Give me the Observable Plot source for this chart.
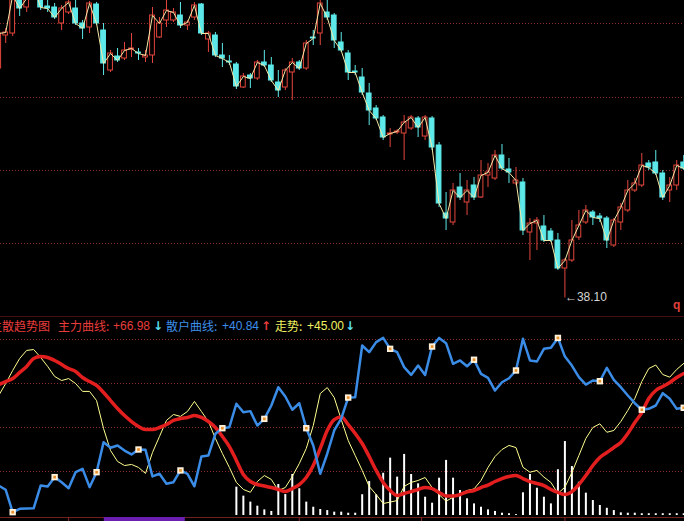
<!DOCTYPE html>
<html><head><meta charset="utf-8">
<script src="https://cdn.jsdelivr.net/npm/d3@7"></script>
<script src="https://cdn.jsdelivr.net/npm/@observablehq/plot@0.6"></script>
<style>
html,body{margin:0;padding:0;background:#000;}
#wrap{position:relative;width:684px;height:521px;overflow:hidden;background:#000;}
#top,#bot{position:absolute;left:0;}
#top{top:0;} #bot{top:317px;}
#top svg,#bot svg{display:block;overflow:hidden;}
#title{position:absolute;top:319px;left:0;width:684px;height:16px;font-size:12px;white-space:nowrap;}
#title span{position:absolute;top:0;line-height:14px;}
#title .cjk{font-family:"Noto Sans CJK SC",sans-serif;}
#title .num{font-family:"Liberation Sans",Arial,sans-serif;}
#title .arw{font-family:"DejaVu Sans",sans-serif;font-weight:bold;font-size:12px;}
#corner{position:absolute;left:673px;top:298px;font:bold 12px "Liberation Sans",Arial,sans-serif;line-height:14px;color:#E0403C;}
</style></head><body>
<div id="wrap"><div id="top"></div><div id="bot"></div><div id="title"></div><div id="corner"></div></div>
<script>
// bar index (first bar partly off the left edge)
const idx = d3.range(-1, 98);

// ---- price panel (OHLC) ----
const openP = [
 47.28,48.60,48.68,50.40,49.72,50.20,50.20,49.76,49.72,49.08,
 49.52,49.68,49.08,48.92,49.84,48.80,47.20,47.76,47.68,48.04,
 47.92,47.72,47.80,48.52,49.20,49.20,49.40,49.00,49.32,49.84,
 48.44,48.60,47.80,47.56,47.44,46.52,47.00,46.88,47.52,47.40,
 46.72,46.52,47.12,47.52,47.28,48.52,48.68,49.52,49.40,48.32,
 47.88,47.16,46.92,46.28,45.68,45.32,44.64,44.72,44.68,44.88,
 45.28,44.56,45.28,44.20,41.48,41.12,42.52,41.92,42.60,42.12,
 43.00,42.88,43.80,43.24,42.68,42.72,40.72,41.08,40.96,40.76,
 40.40,39.28,39.60,40.52,41.12,41.52,41.36,41.28,40.20,41.12,
 41.60,42.40,42.60,43.48,43.52,43.08,42.40,42.60,43.52];
const closeP = [
 48.68,48.72,50.20,49.68,50.08,50.60,49.72,49.68,49.32,49.68,
 49.92,49.08,48.88,49.88,49.08,47.48,47.88,47.60,48.00,48.08,
 47.88,47.80,49.40,49.08,49.60,49.52,49.00,49.12,49.80,48.68,
 48.68,47.80,47.68,47.52,46.56,46.96,46.88,47.52,47.40,46.80,
 46.40,47.20,47.52,47.28,48.28,48.48,49.88,49.32,48.40,48.00,
 47.12,47.12,46.32,45.60,45.28,44.52,44.68,44.76,45.12,45.32,
 44.92,45.32,44.12,41.88,41.28,42.40,42.12,42.40,42.12,43.00,
 43.12,43.80,43.28,43.12,42.80,40.80,41.08,41.20,40.40,40.40,
 39.28,39.60,40.40,41.00,41.60,41.32,41.28,40.40,41.20,41.72,
 42.40,42.68,43.40,43.32,43.08,42.12,42.60,43.40,43.28];
const highP = [
 49.20,48.88,50.48,50.60,50.32,50.88,50.40,50.00,49.88,49.80,
 50.08,50.00,49.20,49.96,49.92,49.08,48.00,48.08,48.32,48.68,
 48.08,48.00,49.72,49.32,50.00,49.68,49.92,49.20,49.92,49.88,
 48.76,48.72,48.28,47.80,47.52,47.08,47.08,47.60,48.00,47.72,
 47.20,47.28,47.68,47.60,48.40,48.80,50.00,50.00,49.48,48.72,
 48.00,47.40,47.28,46.68,45.80,45.40,44.88,44.84,45.40,45.40,
 45.36,45.40,45.36,44.32,42.32,42.68,43.08,42.80,42.92,43.60,
 43.48,44.00,44.24,43.68,43.32,42.88,41.28,41.32,41.40,40.88,
 40.68,39.68,41.20,41.60,41.80,41.60,41.48,41.36,41.28,41.88,
 42.80,42.88,43.88,43.60,44.00,43.20,42.92,43.60,43.80];
const lowP = [
 47.12,48.28,48.56,49.36,49.52,50.08,49.60,49.52,49.24,48.80,
 49.44,49.00,48.44,48.68,49.00,47.00,47.12,47.52,47.60,47.72,
 47.60,47.52,47.48,48.48,48.92,49.12,48.88,48.80,49.20,48.60,
 47.92,47.72,47.32,47.40,46.44,46.48,46.48,46.80,47.32,46.72,
 46.12,46.40,46.00,47.20,47.20,48.20,48.20,49.20,48.08,47.92,
 46.80,47.00,46.20,45.00,45.20,44.40,44.12,44.64,43.60,44.80,
 44.52,44.40,44.00,41.72,40.80,41.00,42.00,41.40,42.00,42.08,
 42.52,42.80,43.20,42.68,42.60,40.60,39.60,40.00,40.32,40.32,
 39.20,38.10,39.52,40.40,41.04,41.00,41.12,40.08,40.12,40.80,
 41.52,42.32,42.52,43.20,43.00,42.00,41.92,42.40,43.20];
const priceGrid = [49.08, 46.12, 43.20, 40.28];
const panelEdge = 37.34;

// ---- 主散趋势图 indicator ----
const mainCurve = [
 74.4,76.1,77.8,81.3,84.7,89.2,90.3,89.8,88.1,85.8,
 83.5,81.8,78.4,76.1,73.9,69.9,65.3,60.8,56.8,53.4,
 50.6,48.9,48.9,50.0,51.7,54.0,55.1,55.7,56.8,55.7,
 53.4,50.0,44.9,39.2,31.3,23.3,19.3,17.6,16.8,15.9,
 14.8,13.6,15.3,17.6,21.6,28.4,38.1,48.3,54.5,56.0,
 51.7,46.6,40.9,33.5,25.6,18.8,14.2,11.4,12.5,13.6,
 14.8,15.9,15.3,13.1,11.1,11.1,11.9,13.4,14.2,15.9,
 17.3,19.3,21.0,22.2,22.7,21.0,19.3,18.2,17.0,14.8,
 13.1,11.9,13.6,17.6,22.7,28.4,33.0,35.8,38.6,41.5,
 46.6,52.8,58.5,66.5,71.0,73.3,75.6,78.4,80.7];
const retailCurve = [
 17.0,14.6,1.9,3.8,4.0,4.1,17.0,16.5,21.8,18.9,
 15.5,24.6,26.5,16.1,24.6,41.6,38.5,39.8,36.9,34.7,
 37.5,37.3,22.2,23.7,18.0,18.9,25.6,23.7,16.6,33.5,
 34.1,46.4,49.6,50.2,63.5,58.7,59.3,51.1,54.9,62.5,
 72.9,67.6,60.1,63.8,49.6,39.8,23.7,35.1,48.3,55.1,
 67.0,67.2,96.6,92.8,98.5,100.9,94.7,92.8,84.3,79.9,
 85.2,79.9,96.0,100.9,97.9,86.2,88.1,84.8,88.5,80.5,
 78.2,71.0,75.7,78.0,82.4,100.4,88.1,87.5,94.7,95.3,
 100.9,90.3,85.2,78.6,74.4,76.7,76.3,83.9,77.1,72.9,
 68.2,63.8,60.1,60.6,62.5,69.5,66.3,60.6,61.2];
const trendCurve = [
 68.2,75.0,82.4,89.2,93.8,94.3,89.8,84.7,79.0,76.7,
 77.8,75.0,70.5,70.5,65.3,49.4,36.9,30.7,28.4,29.0,
 27.3,23.9,35.8,44.9,54.0,57.4,56.3,59.1,64.8,59.1,
 53.4,43.8,35.2,27.3,18.8,14.8,13.2,19.3,22.7,20.5,
 14.2,15.9,22.2,29.5,38.1,51.1,69.3,72.7,67.0,54.5,
 42.6,34.1,25.6,16.5,11.9,6.8,7.6,8.5,16.5,18.8,
 19.9,21.6,15.9,11.9,8.1,10.4,12.3,14.2,15.1,19.9,
 27.3,33.5,37.5,39.8,38.6,27.4,24.6,25.6,21.8,18.8,
 12.5,16.1,24.4,34.1,43.8,50.0,52.1,47.3,48.3,53.4,
 59.7,66.5,76.1,83.5,85.5,80.1,78.6,83.0,86.4];
const histValues = [
 0,0,0,0,0,0,0,0,0,0,
 0,0,0,0,0,0,0,0,0,0,
 0,0,0,0,0,0,0,0,0,0,
 0,0,0,0,16.1,11.0,7.6,5.3,3.2,2.3,
 17.6,11.9,23.3,15.2,7.6,4.7,3.4,2.8,1.9,1.9,
 1.3,1.3,11.8,19.3,11.8,24.0,32.6,21.8,34.7,23.3,
 18.0,10.4,7.0,21.2,31.3,21.2,14.2,9.5,6.6,4.7,
 3.2,2.3,1.3,1.0,0.5,12.9,23.3,15.5,10.4,6.6,
 26.0,42.0,27.8,18.9,12.7,8.5,5.7,4.1,2.8,1.5,
 1.3,1.3,1.0,1.0,1.0,1.0,1.0,1.0,1.0];
const oscGrid = [25, 50, 75, 100];
const axisLevel = -1.14, stripBottom = -3.5;
const tickIdx = [9, 42, 59.5, 80];
const scrollRange = [14.1, 25.7];

// title pieces: label, value, arrow
const titleParts = [
  {text:"主散趋势图", color:"#E83C3C", left:-10, cls:"cjk"},
  {text:"主力曲线:", color:"#E83C3C", left:58, cls:"cjk"},
  {text:"+66.98", color:"#E83C3C", left:113, cls:"num"},
  {text:"↓", color:"#5CE0F0", left:153, cls:"arw"},
  {text:"散户曲线:", color:"#3D8EE8", left:166, cls:"cjk"},
  {text:"+40.84", color:"#3D8EE8", left:222, cls:"num"},
  {text:"↑", color:"#E83C3C", left:261, cls:"arw"},
  {text:"走势:", color:"#F2F060", left:275, cls:"cjk"},
  {text:"+45.00", color:"#F2F060", left:307, cls:"num"},
  {text:"↓", color:"#5CE0F0", left:345, cls:"arw"}
];
const cornerText = "q";

const UP = "#E4463C", DOWN = "#5DE9E9";
const candles = idx.map((i,k)=>({i, open:openP[k], close:closeP[k], high:highP[k], low:lowP[k], up: closeP[k] >= openP[k]}));
const lowest = candles.reduce((a,b)=> b.low < a.low ? b : a);
const xs = {domain:[-0.744, 97.11], range:[0, 684], axis:null};

const topChart = Plot.plot({
  width:684, height:317, marginTop:0, marginRight:0, marginBottom:0, marginLeft:0,
  style:{background:"#000", overflow:"hidden"},
  x: xs,
  y:{domain:[50, 37.32], range:[0, 317], axis:null},
  marks:[
    Plot.ruleY(priceGrid, {stroke:"#8e2c2c", strokeDasharray:"1,2"}),
    Plot.ruleX(candles, {x:"i", y1:"low", y2:"high", stroke:d=>d.up?UP:DOWN}),
    Plot.rect(candles, {x1:d=>d.i-0.34, x2:d=>d.i+0.34, y1:"open", y2:"close",
      fill:d=>d.up?"#000000":DOWN, stroke:d=>d.up?UP:DOWN}),
    Plot.line(candles, {x:"i", y:"close", stroke:"#F6E8A8", strokeWidth:1}),
    Plot.text([lowest], {x:"i", y:"low", text:d=>"←"+d.low.toFixed(2), textAnchor:"start",
      fill:"#d4d4d4", fontSize:12, fontFamily:"Liberation Sans, Arial, sans-serif", dy:-1}),
    Plot.ruleY([panelEdge], {stroke:"#8C1F1F"})
  ]
});
document.getElementById("top").appendChild(topChart);

const rows = idx.map((i,k)=>({i, main:mainCurve[k], retail:retailCurve[k], trend:trendCurve[k], hist:histValues[k]}));
const markers = rows.filter(d => (d.i - 1) % 6 === 0);
const histRows = rows.filter(d => d.hist > 0);

const botChart = Plot.plot({
  width:684, height:204, marginTop:0, marginRight:0, marginBottom:0, marginLeft:0,
  style:{background:"#000", overflow:"hidden"},
  x: xs,
  y:{domain:[0, 100], range:[198, 22], axis:null},
  marks:[
    Plot.ruleY(oscGrid, {stroke:"#8e2c2c", strokeDasharray:"1,2"}),
    Plot.ruleX(histRows, {x:"i", y1:0, y2:"hist", stroke:"#ffffff", strokeWidth:2}),
    Plot.line(rows, {x:"i", y:"trend", stroke:"#FFFF90", strokeWidth:1}),
    Plot.line(rows, {x:"i", y:"main", stroke:"#E21E1E", strokeWidth:3.5, curve:"monotone-x"}),
    Plot.line(rows, {x:"i", y:"retail", stroke:"#3A8CE6", strokeWidth:2.5}),
    Plot.dot(markers, {x:"i", y:"retail", symbol:"square", r:3.6, fill:"#FFF0DA"}),
    Plot.dot(markers, {x:"i", y:"retail", symbol:"square", r:1.5, fill:"#E8902A"}),
    Plot.ruleY([axisLevel], {stroke:"#701E1E"}),
    Plot.rect([scrollRange], {x1:d=>d[0], x2:d=>d[1], y1:axisLevel, y2:stripBottom, fill:"#6A1FB0"}),
    Plot.ruleX(tickIdx, {x:d=>d, y1:axisLevel, y2:stripBottom, stroke:"#8a2a2a"})
  ]
});
document.getElementById("bot").appendChild(botChart);

const title = document.getElementById("title");
for (const p of titleParts) {
  const s = document.createElement("span");
  s.textContent = p.text; s.className = p.cls; s.style.color = p.color; s.style.left = p.left + "px";
  title.appendChild(s);
}
document.getElementById("corner").textContent = cornerText;
</script>
</body></html>
